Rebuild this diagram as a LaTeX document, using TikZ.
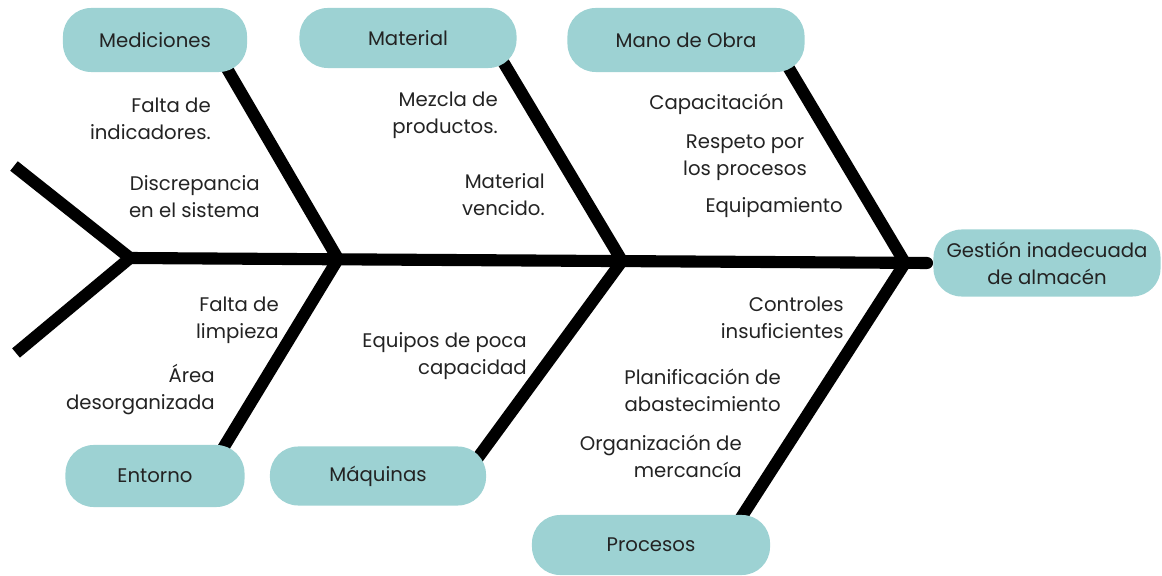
\documentclass[tikz,border=0pt]{standalone}
\usepackage{fontspec}
\setmainfont{Poppins}
\definecolor{boxfill}{RGB}{157,210,211}
\definecolor{txt}{RGB}{35,35,35}
\begin{document}
\begin{tikzpicture}[x=0.025cm,y=-0.025cm,
  bone/.style={line width=8.6pt,black},
  catbox/.style={fill=boxfill,rounded corners=20pt,inner sep=0pt,text=txt,
     font=\fontsize{14}{19.2}\selectfont,align=center},
  cause/.style={text=txt,font=\fontsize{14}{19.2}\selectfont,inner sep=0pt,align=right,anchor=east}]
\useasboundingbox (0,0) rectangle (1162,576);
% junctions
\coordinate (j0) at (130,258);
\coordinate (j1) at (338,259);
\coordinate (j2) at (622,261);
\coordinate (j3) at (905,263);
\coordinate (tail1) at (14,166);
\coordinate (tail2) at (16,353);
\coordinate (head) at (927,263);
% bone ends (under boxes)
\coordinate (bmed) at (222,60);
\coordinate (bmat) at (499,55);
\coordinate (bman) at (784,60);
\coordinate (bent) at (219,455);
\coordinate (bmaq) at (474,463);
\coordinate (bpro) at (737,524);
% spine and tail
\draw[bone,line cap=round] (j0) -- (head);
\draw[bone,line join=miter] (tail1) -- (j0) -- (tail2);
% bones
\draw[bone] (bmed) -- (j1);
\draw[bone] (bent) -- (j1);
\draw[bone] (bmat) -- (j2);
\draw[bone] (bmaq) -- (j2);
\draw[bone] (bman) -- (j3);
\draw[bone] (bpro) -- (j3);
% category boxes
\node[catbox,minimum width=4.6cm,minimum height=1.6cm] (med) at (155,40) {Mediciones};
\node[catbox,minimum width=5.425cm,minimum height=1.5cm] (mat) at (408,38) {Material};
\node[catbox,minimum width=5.925cm,minimum height=1.6cm] (man) at (686,40) {Mano de Obra};
\node[catbox,minimum width=5.675cm,minimum height=1.675cm] (eff) at (1047,263) {Gestión inadecuada\\de almacén};
\node[catbox,minimum width=4.475cm,minimum height=1.55cm] (ent) at (155,476) {Entorno};
\node[catbox,minimum width=5.4cm,minimum height=1.475cm] (maq) at (378,476) {Máquinas};
\node[catbox,minimum width=5.95cm,minimum height=1.5cm] (pro) at (651,545) {Procesos};
% causes
\node[cause] (c1) at (211,119) {Falta de\\indicadores.};
\node[cause] (c2) at (260,197) {Discrepancia\\en el sistema};
\node[cause] (c3) at (498,115) {Mezcla de\\productos.};
\node[cause] (c4) at (545,195) {Material\\vencido.};
\node[cause] (c5) at (784,104) {Capacitación};
\node[cause,align=center,anchor=center] (c6) at (745,158) {Respeto por\\los procesos};
\node[cause] (c7) at (843,208) {Equipamiento};
\node[cause] (c8) at (279,320) {Falta de\\limpieza};
\node[cause] (c9) at (215,390) {Área\\desorganizada};
\node[cause] (c10) at (527,356) {Equipos de poca\\capacidad};
\node[cause] (c11) at (844,318) {Controles\\insuficientes};
\node[cause] (c12) at (781,390) {Planificación de\\abastecimiento};
\node[cause] (c13) at (742,456) {Organización de\\mercancía};
\end{tikzpicture}
\end{document}
